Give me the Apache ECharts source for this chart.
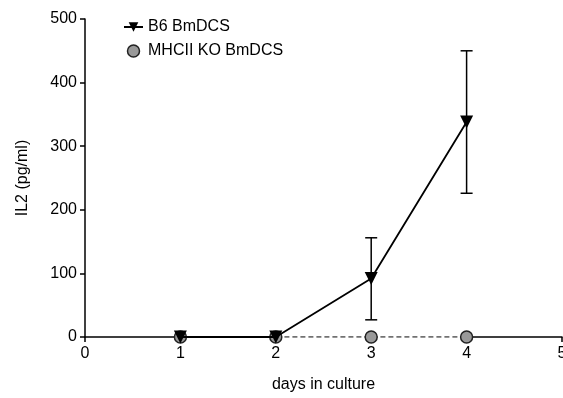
<!DOCTYPE html>
<html><head><meta charset="utf-8">
<script src="https://cdn.jsdelivr.net/npm/echarts@6/dist/echarts.min.js"></script>
<style>html,body{margin:0;padding:0;background:#fff}#c{width:563px;height:398px}</style>
</head><body><div id="c"></div>
<script>
const days = [1, 2, 3, 4];
const b6Values = [0, 0, 92, 338];
const b6ErrLow = [0, 0, 27, 226];
const b6ErrHigh = [0, 0, 156, 450];
const koValues = [0, 0, 0, 0];
const xTicks = [0, 1, 2, 3, 4, 5];
const yTicks = [0, 100, 200, 300, 400, 500];

const font = 'Liberation Sans, Arial, sans-serif';
const fs = 16;
const chart = echarts.init(document.getElementById('c'));
const errData = days.map((d, i) => [d, b6ErrLow[i], b6ErrHigh[i]]).filter(r => r[2] > r[1]);
const koData = days.map((d, i) => [d, koValues[i]]);

chart.setOption({
  animation: false,
  grid: {left: 85, right: 1, top: 19, bottom: 61, containLabel: false, outerBoundsMode: 'none'},
  legend: {
    left: 123, top: 19, orient: 'vertical', itemGap: 8, itemWidth: 19, itemHeight: 12, padding: 0,
    textStyle: {fontFamily: font, fontSize: fs, color: '#000'},
    data: [
      {name: 'B6 BmDCS'},
      {name: 'MHCII KO BmDCS', icon: 'circle', itemStyle: {color: '#999', borderColor: '#222', borderWidth: 1.5}}
    ]
  },
  xAxis: {
    type: 'value', min: xTicks[0], max: xTicks[xTicks.length - 1], interval: 1,
    name: 'days in culture', nameLocation: 'middle', nameGap: 40,
    nameTextStyle: {fontFamily: font, fontSize: fs, color: '#000'},
    axisLine: {lineStyle: {color: '#000', width: 1.5}},
    axisTick: {show: true, length: 5, lineStyle: {color: '#000', width: 1.5}},
    axisLabel: {fontFamily: font, fontSize: fs, color: '#000', margin: 9, showMaxLabel: true},
    splitLine: {show: false}
  },
  yAxis: {
    type: 'value', min: yTicks[0], max: yTicks[yTicks.length - 1], interval: 100,
    name: 'IL2 (pg/ml)', nameLocation: 'middle', nameGap: 54, nameRotate: 90,
    nameTextStyle: {fontFamily: font, fontSize: fs, color: '#000'},
    axisLine: {show: true, lineStyle: {color: '#000', width: 1.5}},
    axisTick: {show: true, length: 5, lineStyle: {color: '#000', width: 1.5}},
    axisLabel: {fontFamily: font, fontSize: fs, color: '#000', margin: 8},
    splitLine: {show: false}
  },
  series: [
    {
      name: 'ko-bg', type: 'line', z: 1, silent: true,
      data: koData, symbol: 'none',
      lineStyle: {color: '#fff', width: 2}
    },
    {
      name: 'MHCII KO BmDCS', type: 'line', z: 2,
      data: koData,
      symbol: 'circle', symbolSize: 12,
      itemStyle: {color: '#999', borderColor: '#222', borderWidth: 1.5},
      lineStyle: {color: '#444', width: 1.3, type: [5, 3]}
    },
    {
      name: 'err', type: 'custom', z: 3,
      data: errData,
      renderItem: function (params, api) {
        const x = api.value(0);
        const lo = api.coord([x, api.value(1)]);
        const hi = api.coord([x, api.value(2)]);
        const w = 6;
        const st = {stroke: '#000', lineWidth: 1.5};
        return {type: 'group', children: [
          {type: 'line', shape: {x1: lo[0], y1: lo[1], x2: hi[0], y2: hi[1]}, style: st},
          {type: 'line', shape: {x1: lo[0] - w, y1: lo[1], x2: lo[0] + w, y2: lo[1]}, style: st},
          {type: 'line', shape: {x1: hi[0] - w, y1: hi[1], x2: hi[0] + w, y2: hi[1]}, style: st}
        ]};
      }
    },
    {
      name: 'B6 BmDCS', type: 'line', z: 4,
      data: days.map((d, i) => [d, b6Values[i]]),
      symbol: 'triangle', symbolRotate: 180, symbolSize: 13,
      itemStyle: {color: '#000'},
      lineStyle: {color: '#000', width: 1.8}
    }
  ]
});
</script></body></html>
